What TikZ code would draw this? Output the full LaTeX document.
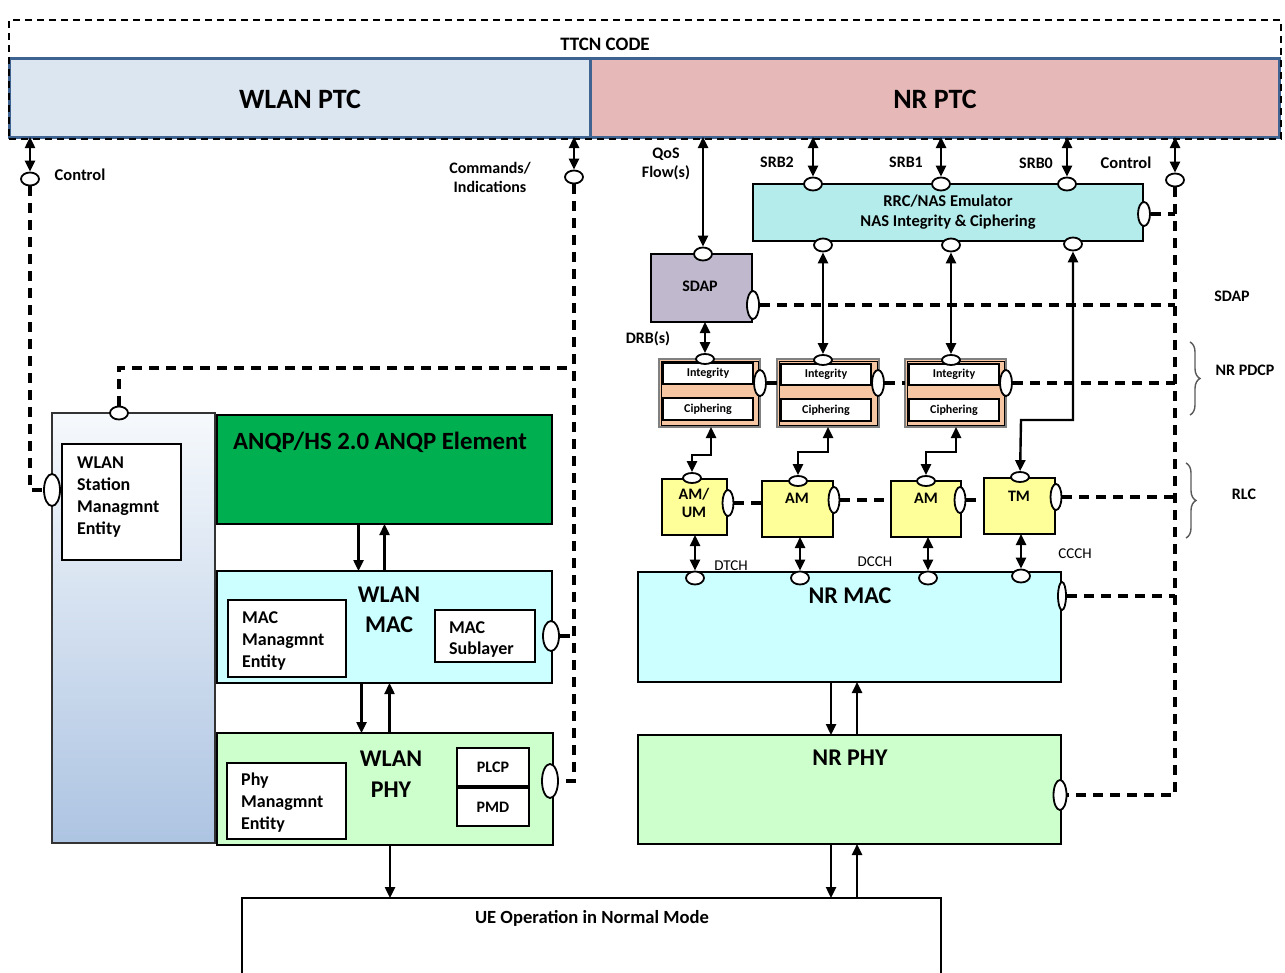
\documentclass[tikz,border=0pt]{standalone}
\usepackage{fontspec}
\setmainfont{Carlito}
\usetikzlibrary{arrows.meta,shapes.geometric,decorations.pathreplacing,calc}
\definecolor{ptcblue}{HTML}{DCE6F1}
\definecolor{ptcpink}{HTML}{E6B9B8}
\definecolor{ptcedge}{HTML}{3F6391}
\definecolor{anqpgreen}{HTML}{00B050}
\definecolor{maccyan}{HTML}{CCFFFF}
\definecolor{phygreen}{HTML}{CCFFCC}
\definecolor{rrccyan}{HTML}{B4ECEB}
\definecolor{sdapgrey}{HTML}{C0B9CE}
\definecolor{pdcppeach}{HTML}{F6C6A2}
\definecolor{rlcyellow}{HTML}{FFFF99}
\definecolor{statop}{HTML}{F6F9FC}
\definecolor{stabot}{HTML}{ADC4E2}
\newcommand\mkbox[6]{\node[box,#6,minimum width={(#4-#2)*1pt},minimum height={(#5-#3)*1pt}] (#1) at (#2,#3) {};}
\tikzset{
  box/.style={draw=black, line width=1.8pt, anchor=north west, inner sep=0pt, outer sep=0pt, rectangle},
  hport/.style={ellipse, draw=black, fill=white, line width=1.8pt, minimum width=18pt, minimum height=13pt, inner sep=0pt},
  vport/.style={ellipse, draw=black, fill=white, line width=1.8pt, minimum width=16pt, minimum height=30pt, inner sep=0pt},
  dsh/.style={line width=3.2pt, dash pattern=on 10pt off 7pt},
  arr/.style={line width=2.4pt, -{Triangle[length=11pt,width=10pt]}},
  dbl/.style={line width=2.4pt, {Triangle[length=11pt,width=10pt]}-{Triangle[length=11pt,width=10pt]}},
  t16/.style={font=\bfseries\fontsize{16}{20}\selectfont, inner sep=0pt, align=center},
  t18/.style={font=\bfseries\fontsize{18}{22}\selectfont, inner sep=0pt, align=left, anchor=west},
  t24/.style={font=\bfseries\fontsize{24}{30}\selectfont, inner sep=0pt, align=center},
  t12/.style={font=\bfseries\fontsize{12}{14}\selectfont, inner sep=0pt, align=center},
  tthin/.style={font=\fontsize{15}{18}\selectfont, inner sep=0pt},
  brc/.style={draw=black!65, line width=1.4pt, decorate, decoration={brace, amplitude=10pt}},
}
\begin{document}
\begin{tikzpicture}[x=1pt,y=-1pt]
\useasboundingbox (0,0) rectangle (1285,972);
\clip (0,0) rectangle (1285,972);
% ---------- top PTCs ----------
\mkbox{wptc}{9}{58}{590}{137}{fill=ptcblue, draw=ptcedge, line width=3pt}
\mkbox{nptc}{590}{58}{1279}{137}{fill=ptcpink, draw=ptcedge, line width=3pt}
\mkbox{ttcn}{9}{20}{1281}{139}{draw=black, line width=1.8pt, dash pattern=on 7pt off 5pt}
\node[t16, font=\bfseries\fontsize{19}{22}\selectfont] (ttcnlbl) at (605,44) {TTCN CODE};
\node[t24, font=\bfseries\fontsize{28}{32}\selectfont] (wptct) at (300,99) {WLAN PTC};
\node[t24, font=\bfseries\fontsize{28}{32}\selectfont] (nptct) at (935,99) {NR PTC};
% ---------- WLAN side ----------
\mkbox{sta}{52}{413}{215}{843}{top color=statop, bottom color=stabot, draw=black!80}
\mkbox{stain}{62}{444}{181}{560}{fill=white}
\node[t18] (stat) at (77,497) {WLAN\\Station\\Managmnt\\Entity};
\mkbox{anqp}{217}{415}{552}{524}{fill=anqpgreen}
\node[t24, font=\bfseries\fontsize{24.8}{30}\selectfont] (anqpt) at (380,442) {ANQP/HS 2.0 ANQP Element};
\mkbox{wmac}{217}{571}{552}{683}{fill=maccyan}
\node[t24] (wmact) at (389,610) {WLAN\\MAC};
\mkbox{mme}{228}{600}{346}{677}{fill=white}
\node[t18] (mmet) at (242,641) {MAC\\Managmnt\\Entity};
\mkbox{msl}{435}{610}{535}{662}{fill=white}
\node[t18, font=\bfseries\fontsize{18}{21}\selectfont] (mslt) at (449,640) {MAC\\Sublayer};
\mkbox{wphy}{217}{733}{553}{845}{fill=phygreen}
\node[t24, font=\bfseries\fontsize{24}{31}\selectfont] (wphyt) at (391,774) {WLAN\\PHY};
\mkbox{pme}{227}{763}{346}{839}{fill=white}
\node[t18] (pmet) at (241,803) {Phy\\Managmnt\\Entity};
\mkbox{plcp}{457}{748}{529}{786}{fill=white}
\node[t16] (plcpt) at (493,767) {PLCP};
\mkbox{pmd}{457}{788}{529}{826}{fill=white}
\node[t16] (pmdt) at (493,807) {PMD};
% ---------- UE ----------
\mkbox{ue}{242}{898}{941}{990}{fill=white}
\node[t16, font=\bfseries\fontsize{18.6}{22}\selectfont] (uet) at (592,918) {UE Operation in Normal Mode};
% ---------- NR side ----------
\mkbox{sdap}{651}{254}{752}{322}{fill=sdapgrey}
\node[t16] (sdapt) at (700,286) {SDAP};
\mkbox{rrc}{753}{184}{1143}{241}{fill=rrccyan}
\node[t16, font=\bfseries\fontsize{16.5}{20}\selectfont] (rrct) at (948,212) {RRC/NAS Emulator\\NAS Integrity \& Ciphering};
% PDCP
\mkbox{pdA}{659}{359}{760}{427}{fill=pdcppeach, draw=gray, line width=1.2pt}
\mkbox{pdAi}{661}{361}{758}{425}{draw=black, line width=1pt}
\mkbox{intA}{663}{363}{753}{384}{fill=white}
\mkbox{ciA}{663}{398}{753}{420}{fill=white}
\mkbox{pdB}{777}{359}{879}{427}{fill=pdcppeach, draw=gray, line width=1.2pt}
\mkbox{pdBi}{779}{361}{877}{425}{draw=black, line width=1pt}
\mkbox{intB}{781}{364}{871}{385}{fill=white}
\mkbox{ciB}{781}{399}{871}{421}{fill=white}
\mkbox{pdC}{905}{359}{1006}{427}{fill=pdcppeach, draw=gray, line width=1.2pt}
\mkbox{pdCi}{907}{361}{1004}{425}{draw=black, line width=1pt}
\mkbox{intC}{909}{364}{999}{385}{fill=white}
\mkbox{ciC}{909}{399}{999}{421}{fill=white}
\node[t12] (intAt) at (intA) {Integrity};
\node[t12] (ciAt) at (ciA) {Ciphering};
\node[t12] (intBt) at (intB) {Integrity};
\node[t12] (ciBt) at (ciB) {Ciphering};
\node[t12] (intCt) at (intC) {Integrity};
\node[t12] (ciCt) at (ciC) {Ciphering};
% RLC
\mkbox{rA}{662}{479}{727}{535}{fill=rlcyellow}
\node[t16, font=\bfseries\fontsize{16}{18}\selectfont] (rAt) at (694,503) {AM/\\UM};
\mkbox{rB}{762}{481}{833}{537}{fill=rlcyellow}
\node[t16] (rBt) at (797,498) {AM};
\mkbox{rC}{891}{481}{961}{537}{fill=rlcyellow}
\node[t16] (rCt) at (926,498) {AM};
\mkbox{rD}{984}{478}{1055}{534}{fill=rlcyellow}
\node[t16] (rDt) at (1019,496) {TM};
% MAC / PHY
\mkbox{nmac}{638}{572}{1061}{682}{fill=maccyan}
\node[t24] (nmact) at (850,596) {NR MAC};
\mkbox{nphy}{638}{735}{1061}{844}{fill=phygreen}
\node[t24] (nphyt) at (850,758) {NR PHY};
% ---------- ports ----------
\node[hport] (pc1) at (30,179) {};
\node[hport] (pcmd) at (574,177) {};
\node[hport] (pstaT) at (119,413) {};
\node[vport, minimum height=32pt] (pstaL) at (52,490) {};
\node[vport] (pwmac) at (551,636) {};
\node[vport, minimum height=34pt] (pwphy) at (550,781) {};
\node[hport] (psdapT) at (703,254) {};
\node[vport, minimum height=28pt, minimum width=12pt] (psdapR) at (753,305) {};
\node[hport] (prrcT1) at (813,184) {};
\node[hport] (prrcT2) at (941,184) {};
\node[hport] (prrcT3) at (1067,184) {};
\node[hport] (prrcB1) at (823,245) {};
\node[hport] (prrcB2) at (951,245) {};
\node[hport] (prrcB3) at (1073,244) {};
\node[vport, minimum height=24pt, minimum width=12pt] (prrcR) at (1144,214) {};
\node[hport] (pctrl) at (1175,180) {};
\node[hport, minimum height=10pt] (ppdA) at (705,359) {};
\node[hport, minimum height=10pt] (ppdB) at (823,360) {};
\node[hport, minimum height=10pt] (ppdC) at (951,360) {};
\node[vport, minimum height=26pt, minimum width=12pt] (ppdAR) at (760,383) {};
\node[vport, minimum height=26pt, minimum width=12pt] (ppdBR) at (878,383) {};
\node[vport, minimum height=26pt, minimum width=12pt] (ppdCR) at (1006,383) {};
\node[hport, minimum height=10pt] (prA) at (692,478) {};
\node[hport, minimum height=10pt] (prB) at (798,481) {};
\node[hport, minimum height=10pt] (prC) at (926,481) {};
\node[hport, minimum height=10pt] (prD) at (1020,477) {};
\node[vport, minimum height=26pt, minimum width=11pt] (prAR) at (728,503) {};
\node[vport, minimum height=26pt, minimum width=11pt] (prBR) at (834,500) {};
\node[vport, minimum height=26pt, minimum width=11pt] (prCR) at (960,500) {};
\node[vport, minimum height=26pt, minimum width=11pt] (prDR) at (1056,497) {};
\node[hport] (pmA) at (695,578) {};
\node[hport] (pmB) at (800,578) {};
\node[hport] (pmC) at (928,578) {};
\node[hport] (pmD) at (1021,576) {};
\node[vport, minimum height=28pt, minimum width=8pt] (pmR) at (1062,596) {};
\node[vport, minimum height=30pt, minimum width=13pt] (pphR) at (1060,795) {};
% ---------- labels ----------
\node[t16, font=\bfseries\fontsize{16.5}{20}\selectfont] (lctrl1) at (80,175) {Control};
\node[t16, font=\bfseries\fontsize{16}{19}\selectfont] (lcmd) at (490,177) {Commands/\\Indications};
\node[t16, font=\bfseries\fontsize{16}{19}\selectfont] (lqos) at (666,164) {QoS\\Flow(s)};
\node[t16] (ldrb) at (648,339) {DRB(s)};
\node[t16] (lsrb2) at (777,162) {SRB2};
\node[t16] (lsrb1) at (906,162) {SRB1};
\node[t16] (lsrb0) at (1036,163) {SRB0};
\node[t16, font=\bfseries\fontsize{16.5}{20}\selectfont] (lctrl2) at (1126,163) {Control};
\node[t16] (lsdap) at (1232,296) {SDAP};
\node[t16] (lpdcp) at (1245,370) {NR PDCP};
\node[t16] (lrlc) at (1244,494) {RLC};
\node[tthin] (ldtch) at (731,566) {DTCH};
\node[tthin] (ldcch) at (875,562) {DCCH};
\node[tthin] (lccch) at (1075,554) {CCCH};
% ---------- coordinates ----------
\coordinate (cmdbend) at (574,368);
\coordinate (tmbend) at (1021,420);
\coordinate (bA) at (711,455);
\coordinate (bB) at (828,452);
\coordinate (bC) at (956,452);
\coordinate (brPa) at (1190,342);
\coordinate (brPb) at (1190,415);
\coordinate (brRa) at (1186,463);
\coordinate (brRb) at (1186,538);
% ---------- dashed control lines ----------
\draw[dsh] (pc1) |- (pstaL);
\draw[dsh] (pcmd) |- (pwphy);
\draw[dsh] (pwmac) -- (pwmac -| pcmd);
\draw[dsh] (pstaT) |- (cmdbend);
\draw[dsh] (pctrl) |- (pphR);
\draw[dsh] (prrcR) -- (prrcR -| pctrl);
\draw[dsh] (psdapR) -- (psdapR -| pctrl);
\draw[dsh] (ppdAR) -- (ppdAR -| pdB.west);
\draw[dsh] (ppdBR) -- (ppdBR -| pdC.west);
\draw[dsh] (ppdCR) -- (ppdCR -| pctrl);
\draw[dsh] (prAR) -- (prAR -| rB.west);
\draw[dsh] (prBR) -- (prBR -| rC.west);
\draw[dsh] (prCR) -- (prCR -| rD.west);
\draw[dsh] (prDR) -- (prDR -| pctrl);
\draw[dsh] (pmR) -- (pmR -| pctrl);
% ---------- solid arrows ----------
\draw[dbl] (pc1) -- (pc1 |- wptc.south);
\draw[dbl] (pcmd) -- (pcmd |- wptc.south);
\draw[arr] ([xshift=-26pt]anqp.south) -- ([xshift=-26pt]wmac.north);
\draw[arr] ([xshift=0pt]wmac.north) -- ([xshift=0pt]anqp.south);
\draw[arr] ([xshift=-23pt]wmac.south) -- ([xshift=-23pt]wmac.south |- wphy.north);
\draw[arr] ([xshift=5pt]wmac.south |- wphy.north) -- ([xshift=5pt]wmac.south);
\draw[arr] ([xshift=5pt]wphy.south) -- ([xshift=5pt]wphy.south |- ue.north);
\draw[dbl] (psdapT) -- (psdapT |- nptc.south);
\draw[dbl] (prrcT1) -- (prrcT1 |- nptc.south);
\draw[dbl] (prrcT2) -- (prrcT2 |- nptc.south);
\draw[dbl] (prrcT3) -- (prrcT3 |- nptc.south);
\draw[dbl] (pctrl) -- (pctrl |- nptc.south);
\draw[dbl] (sdap.south -| ppdA) -- (ppdA);
\draw[dbl] (prrcB1) -- (ppdB);
\draw[dbl] (prrcB2) -- (ppdC);
\draw[dbl] (prrcB3) |- (tmbend) -- (prD);
\draw[dbl] (prA) |- (bA) -- (pdA.south -| bA);
\draw[dbl] (prB) |- (bB) -- (pdB.south -| bB);
\draw[dbl] (prC) |- (bC) -- (pdC.south -| bC);
\draw[dbl] (rA.south -| pmA) -- (pmA);
\draw[dbl] (rB.south -| pmB) -- (pmB);
\draw[dbl] (rC.south -| pmC) -- (pmC);
\draw[dbl] (rD.south -| pmD) -- (pmD);
\draw[arr] ([xshift=-18.5pt]nmac.south) -- ([xshift=-18.5pt]nmac.south |- nphy.north);
\draw[arr] ([xshift=7.5pt]nmac.south |- nphy.north) -- ([xshift=7.5pt]nmac.south);
\draw[arr] ([xshift=-18.5pt]nphy.south) -- ([xshift=-18.5pt]nphy.south |- ue.north);
\draw[arr] ([xshift=7.5pt]nphy.south |- ue.north) -- ([xshift=7.5pt]nphy.south);
% ---------- braces ----------
\draw[brc] (brPa) -- (brPb);
\draw[brc] (brRa) -- (brRb);
\end{tikzpicture}
\end{document}
